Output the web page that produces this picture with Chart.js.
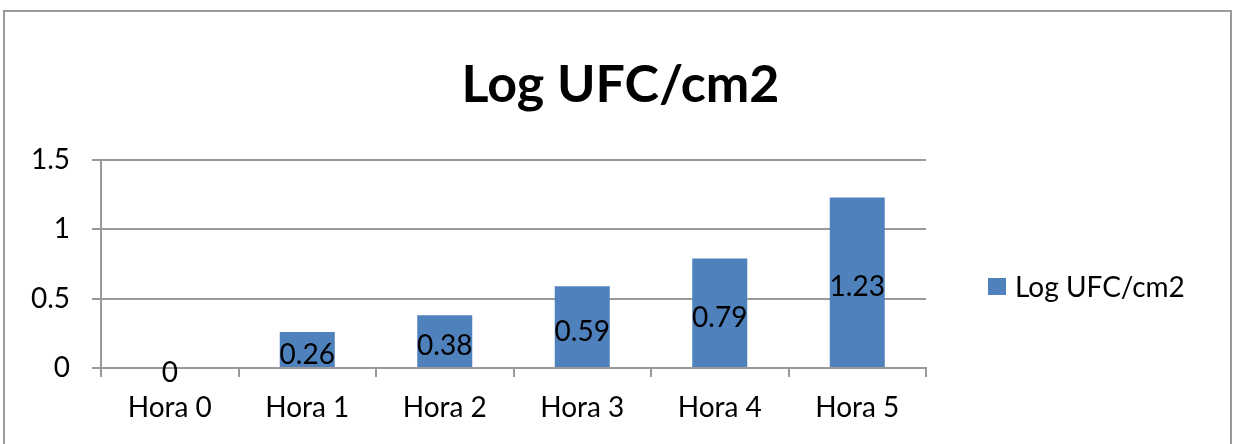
<!DOCTYPE html>
<html>
<head>
<meta charset="utf-8">
<script src="https://cdn.jsdelivr.net/npm/chart.js@4"></script>
<style>
  html, body { margin: 0; padding: 0; background: #fff; overflow: hidden; }
  #frame { position: absolute; left: 3px; top: 10px; width: 1225px; height: 460px; border: 2px solid #9a9a9a; }
  #wrap { position: absolute; left: 0; top: 0; width: 1235px; height: 444px; }
</style>
</head>
<body>
<div id="frame"></div>
<div id="wrap"><canvas id="bar-chart" width="1235" height="444"></canvas></div>
<script>
const categories = ['Hora 0', 'Hora 1', 'Hora 2', 'Hora 3', 'Hora 4', 'Hora 5'];
const logValues = [0, 0.26, 0.38, 0.59, 0.79, 1.23];
const valueLabels = ['0', '0.26', '0.38', '0.59', '0.79', '1.23'];
const yTickLabels = ['0', '0.5', '1', '1.5'];
const seriesName = 'Log UFC/cm2';

const FONT = 'Lato, "Open Sans", sans-serif';
const BAR_COLOR = '#4f81bd';

// etiquetas de valor en el centro de cada barra
const barLabels = {
    id: 'barLabels',
    afterDatasetsDraw(chart) {
        const ctx = chart.ctx;
        const meta = chart.getDatasetMeta(0);
        ctx.save();
        ctx.font = '28px ' + FONT;
        ctx.fillStyle = '#000';
        ctx.textAlign = 'center';
        ctx.textBaseline = 'middle';
        meta.data.forEach((bar, i) => {
            const y = (bar.y + bar.base) / 2 + 5;
            ctx.fillText(valueLabels[i], bar.x, y);
        });
        ctx.restore();
    }
};

// título centrado en todo el lienzo y leyenda a la derecha
const titleAndLegend = {
    id: 'titleAndLegend',
    afterDraw(chart) {
        const ctx = chart.ctx;
        const area = chart.chartArea;
        const ds = chart.data.datasets[0];
        ctx.save();
        ctx.font = 'bold 52px ' + FONT;
        ctx.fillStyle = '#000';
        ctx.textAlign = 'center';
        ctx.textBaseline = 'middle';
        ctx.fillText(seriesName, chart.width / 2 + 3, 85);

        const x = area.right + 62;
        const y = (area.top + area.bottom) / 2 + 22;
        ctx.fillStyle = ds.backgroundColor;
        ctx.fillRect(x, y - 8, 18, 17);
        ctx.font = '28px ' + FONT;
        ctx.fillStyle = '#000';
        ctx.textAlign = 'left';
        ctx.fillText(ds.label, x + 27, y + 2);
        ctx.restore();
    }
};

const chart = document.getElementById('bar-chart').getContext('2d');
const myChart = new Chart(chart, {
    type: 'bar',
    data: {
        labels: categories,
        datasets: [{
            label: seriesName,
            data: logValues,
            backgroundColor: BAR_COLOR,
            borderWidth: 0,
            categoryPercentage: 1,
            barPercentage: 0.4,
        }],
    },
    options: {
        responsive: false,
        animation: false,
        layout: {
            padding: { left: 0, right: 309, top: 160, bottom: 0 }
        },
        scales: {
            y: {
                min: 0,
                max: 1.5,
                afterFit(scale) { scale.width = 101; },
                ticks: {
                    stepSize: 0.5,
                    color: '#000',
                    font: { family: FONT, size: 28 },
                    padding: 22,
                    callback: (v, i) => yTickLabels[i],
                },
                grid: {
                    color: '#999',
                    lineWidth: 2,
                    tickLength: 9,
                },
                border: { color: '#999', width: 2 },
            },
            x: {
                afterFit(scale) { scale.height = 76; },
                ticks: {
                    color: '#000',
                    font: { family: FONT, size: 28 },
                    padding: 14,
                },
                grid: {
                    offset: true,
                    drawOnChartArea: false,
                    color: '#999',
                    lineWidth: 2,
                    tickLength: 9,
                },
                border: { color: '#999', width: 2 },
            }
        },
        plugins: {
            title: { display: false },
            legend: { display: false },
            tooltip: { enabled: false }
        }
    },
    plugins: [barLabels, titleAndLegend]
});
</script>
</body>
</html>
